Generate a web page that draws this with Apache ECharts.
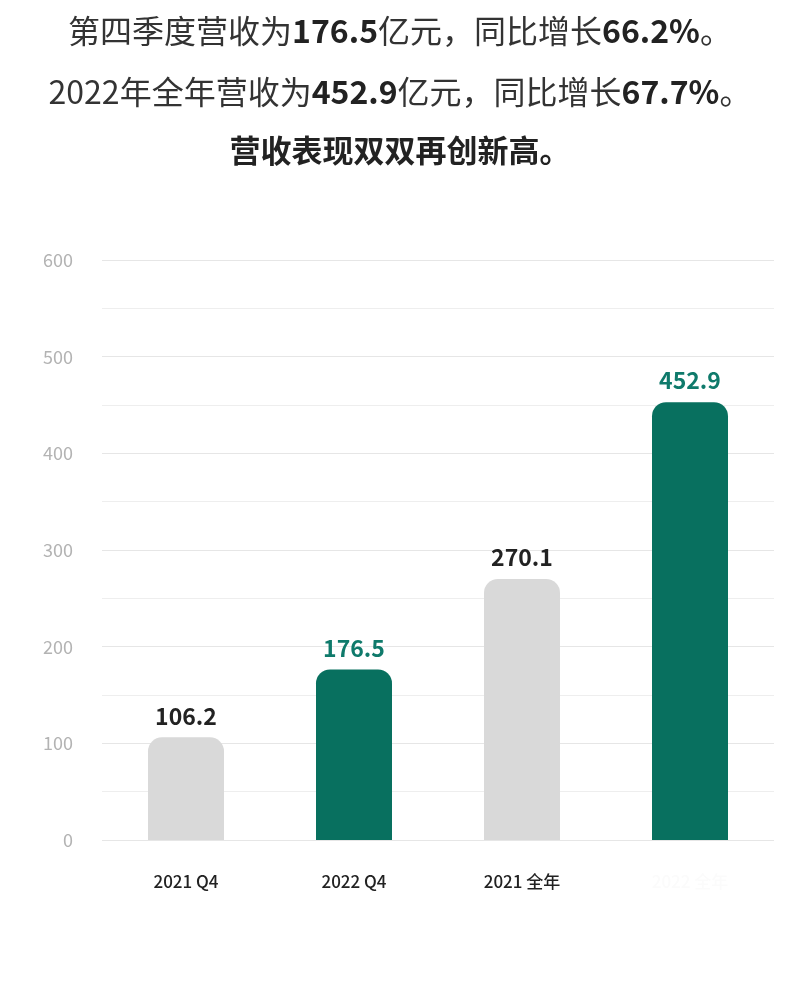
<!DOCTYPE html>
<html><head><meta charset="utf-8">
<script src="https://cdn.jsdelivr.net/npm/echarts@6/dist/echarts.min.js"></script>
<style>html,body{margin:0;padding:0;background:#fff}#c{width:800px;height:985px}</style>
</head><body><div id="c"></div>
<script>
var categories = ["2021 Q4", "2022 Q4", "2021 全年", "2022 全年"];
var revenue = [106.2, 176.5, 270.1, 452.9];
var highlight = [false, true, false, true];
var yTicks = [0, 100, 200, 300, 400, 500, 600];

var TEAL = '#08705f', GRAY = '#d9d9d9';
var FONT = '"Noto Sans CJK SC", "Noto Sans", sans-serif';
var chart = echarts.init(document.getElementById('c'), null, {renderer: 'canvas'});
var rich = {
  n: {fontSize: 32, color: '#333', fontFamily: FONT, fontWeight: 'normal'},
  b: {fontSize: 32, color: '#222', fontFamily: FONT, fontWeight: 'bold'}
};
chart.setOption({
  animation: false,
  backgroundColor: '#fff',
  title: [
    {left: 'center', top: 10, text: '{n|第四季度营收为}{b|176.5}{n|亿元，同比增长}{b|66.2%}{n|。}', textStyle: {rich: rich}},
    {left: 'center', top: 71, text: '{n|2022年全年营收为}{b|452.9}{n|亿元，同比增长}{b|67.7%}{n|。}', textStyle: {rich: rich}},
    {left: 'center', top: 130, text: '营收表现双双再创新高。', textStyle: {fontSize: 31, fontWeight: 'bold', color: '#222', fontFamily: FONT}}
  ],
  grid: {left: 102, right: 26, top: 260, bottom: 145},
  xAxis: {
    type: 'category', data: categories,
    axisLine: {show: false}, axisTick: {show: false},
    axisLabel: {
      margin: 33, fontSize: 17, fontWeight: 500, fontFamily: FONT,
      color: function (v, i) { return i === 3 ? '#fbfbfb' : '#222'; }
    }
  },
  yAxis: {
    type: 'value', min: yTicks[0], max: yTicks[yTicks.length - 1], interval: 100,
    axisLine: {show: false}, axisTick: {show: false},
    axisLabel: {margin: 29, fontSize: 18, color: '#b3b3b3', fontFamily: FONT},
    splitLine: {lineStyle: {color: '#e6e6e6', width: 1}},
    minorTick: {show: false, splitNumber: 2},
    minorSplitLine: {show: true, lineStyle: {color: '#eeeeee', width: 1}}
  },
  series: [{
    type: 'bar', barWidth: 76,
    data: revenue.map(function (v, i) {
      return {
        value: v,
        itemStyle: {color: highlight[i] ? TEAL : GRAY, borderRadius: [14, 14, 0, 0]},
        label: {color: highlight[i] ? '#0f7a6b' : '#222'}
      };
    }),
    label: {show: true, position: 'top', distance: 10, fontSize: 23, fontWeight: 600, fontFamily: FONT}
  }]
});
</script></body></html>
